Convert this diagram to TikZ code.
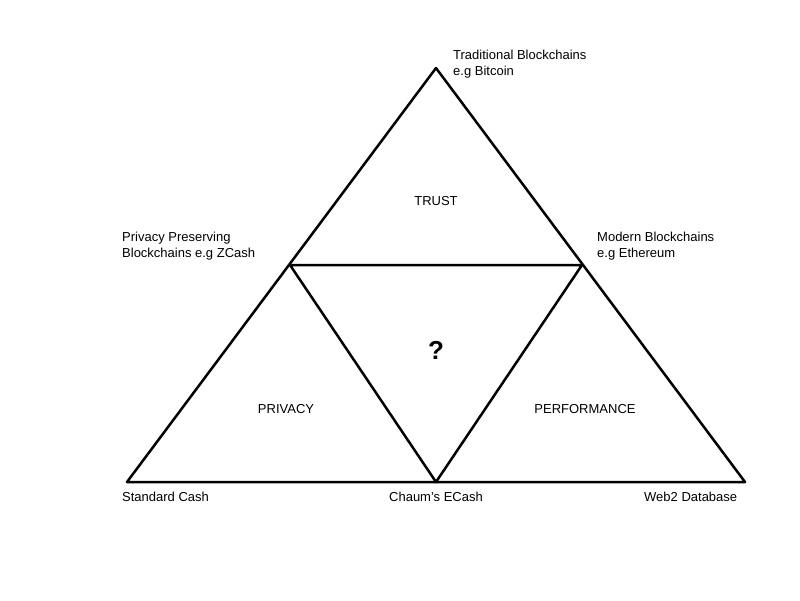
\documentclass[tikz,border=0pt]{standalone}
\usepackage{fontspec}
\setmainfont{Liberation Sans}
\begin{document}
\begin{tikzpicture}[x=1pt,y=-1pt,
  edge/.style={line width=2.5pt,line join=round},
  lab/.style={font=\fontsize{13}{16}\selectfont,align=left,inner sep=0pt},
  area/.style={font=\fontsize{13}{16}\selectfont,inner sep=0pt}]
\useasboundingbox (0,0) rectangle (800,600);
\coordinate (T) at (436,68);
\coordinate (L) at (127,482);
\coordinate (R) at (745,482);
\coordinate (ML) at (290,265);
\coordinate (MR) at (582,265);
\coordinate (MB) at (436,482);
\draw[edge] (T) -- (L) -- (R) -- cycle;
\draw[edge] (ML) -- (MR) -- (MB) -- cycle;
\node[lab,anchor=west] (tl) at (453,64) {Traditional Blockchains\\e.g Bitcoin};
\node[lab,anchor=west] (pl) at (122,246) {Privacy Preserving\\Blockchains e.g ZCash};
\node[lab,anchor=west] (ml) at (597,246) {Modern Blockchains\\e.g Ethereum};
\node[lab,anchor=west] (sc) at (122,497) {Standard Cash};
\node[lab] (ce) at (436,497) {Chaum’s ECash};
\node[lab,anchor=west] (wd) at (644,497) {Web2 Database};
\node[area] (tr) at (436,201) {TRUST};
\node[area,font=\fontsize{26}{30}\selectfont\bfseries] (q) at (436,350) {?};
\node[area] (pr) at (286,409) {PRIVACY};
\node[area] (pf) at (585,409) {PERFORMANCE};
\end{tikzpicture}
\end{document}
